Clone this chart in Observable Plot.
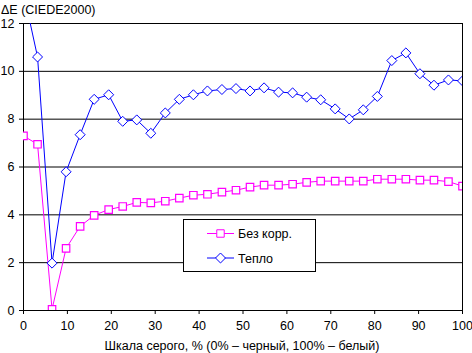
<!DOCTYPE html>
<html><head><meta charset="utf-8">
<script src="https://cdn.jsdelivr.net/npm/d3@7"></script>
<script src="https://cdn.jsdelivr.net/npm/@observablehq/plot@0.6"></script>
<style>body{margin:0;background:#fff}</style>
</head><body><div id="chart"></div>
<script>
const grayLevels = [0,3.2,6.5,9.7,12.9,16.1,19.4,22.6,25.8,29.0,32.3,35.5,38.7,41.9,45.2,48.4,51.6,54.8,58.1,61.3,64.5,67.7,71.0,74.2,77.4,80.6,83.9,87.1,90.3,93.5,96.8,100];
const bezKorr = [7.3,6.95,0.05,2.6,3.52,3.98,4.22,4.35,4.52,4.5,4.57,4.7,4.82,4.86,4.95,5.03,5.16,5.24,5.24,5.28,5.36,5.41,5.41,5.41,5.41,5.49,5.49,5.49,5.45,5.45,5.39,5.2];
const teplo = [13.3,10.6,1.98,5.8,7.35,8.83,9.02,7.91,7.97,7.41,8.26,8.83,9.02,9.18,9.24,9.28,9.18,9.31,9.13,9.1,8.92,8.81,8.43,8.01,8.39,8.95,10.45,10.77,9.9,9.42,9.64,9.6];
const xTicks = [0,10,20,30,40,50,60,70,80,90,100];
const yTicks = [0,2,4,6,8,10,12];
const seriesNames = ["Без корр.","Тепло"];
const seriesColors = ["#ff00ff","#0000ff"];
const yTitle = "ΔE (CIEDE2000)";
const xTitle = "Шкала серого, % (0% – черный, 100% – белый)";

const rows1 = grayLevels.map((x,i)=>({x, y:bezKorr[i]}));
const rows2 = grayLevels.map((x,i)=>({x, y:teplo[i]}));

const chart = Plot.plot({
  width:472, height:353,
  marginLeft:23, marginRight:10, marginTop:23, marginBottom:43,
  style:{fontFamily:"'Liberation Sans', Arial, sans-serif", fontSize:"12px", background:"#fff", color:"#000"},
  x:{domain:[0,100]},
  y:{domain:[0,12]},
  marks:[
    Plot.gridY(yTicks,{stroke:"#000", strokeOpacity:1}),
    Plot.ruleX([100],{stroke:"#000"}),
    Plot.ruleX([0],{stroke:"#000"}),
    Plot.ruleY([0],{stroke:"#000"}),
    Plot.axisX(xTicks,{tickSize:4, tickPadding:7, label:null, fontSize:12.5}),
    Plot.axisY(yTicks,{tickSize:4, tickPadding:5, label:null, fontSize:12.5}),
    Plot.line(rows1,{x:"x", y:"y", stroke:seriesColors[0], strokeWidth:1, clip:true}),
    Plot.dot(rows1,{x:"x", y:"y", symbol:"square", r:4.2, stroke:seriesColors[0], fill:"#fff", strokeWidth:1.2, clip:true}),
    Plot.line(rows2,{x:"x", y:"y", stroke:seriesColors[1], strokeWidth:1, clip:true}),
    Plot.dot(rows2,{x:"x", y:"y", symbol:"diamond2", r:4.5, stroke:seriesColors[1], fill:"#fff", strokeWidth:1, clip:true})
  ]
});
document.getElementById("chart").appendChild(chart);
const svg = d3.select(chart);
svg.append("text").attr("x",1).attr("y",14).attr("text-anchor","start").attr("font-size",12.5).attr("fill","#000").text(yTitle);
svg.append("text").attr("x",242).attr("y",350).attr("text-anchor","middle").attr("font-size",12.5).attr("fill","#000").text(xTitle);
const lg = svg.append("g").attr("text-anchor","start");
lg.append("rect").attr("x",183.5).attr("y",219.5).attr("width",132).attr("height",52).attr("fill","#fff").attr("stroke","#000");
const sym = [d3.symbolSquare, d3.symbolDiamond2];
const sizes = [4.2*4.2*Math.PI, 4.5*4.5*Math.PI];
seriesNames.forEach((name,i)=>{
  const cy = 233.5 + i*24.5;
  lg.append("line").attr("x1",207).attr("x2",234).attr("y1",cy).attr("y2",cy).attr("stroke",seriesColors[i]).attr("stroke-width",1);
  lg.append("path").attr("d",d3.symbol(sym[i],sizes[i])()).attr("transform",`translate(220.5,${cy})`).attr("fill","#fff").attr("stroke",seriesColors[i]);
  lg.append("text").attr("x",238).attr("y",cy+4.5).attr("text-anchor","start").attr("font-size",12.5).attr("fill","#000").text(name);
});
</script></body></html>
